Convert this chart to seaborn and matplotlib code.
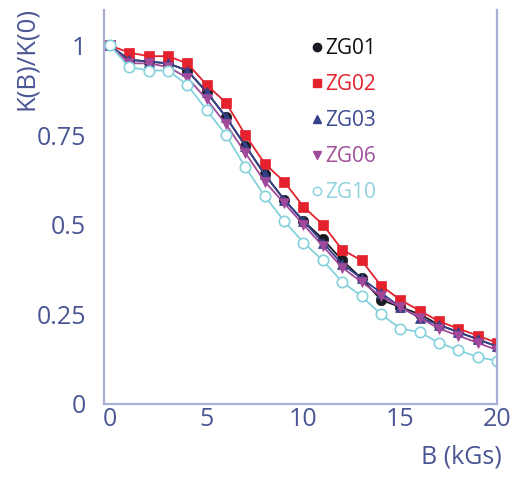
import numpy as np
import pandas as pd
import seaborn as sns
import matplotlib.pyplot as plt
from matplotlib.lines import Line2D

# field B in kGs
B = list(range(0, 21))

zg01 = [1.0, 0.96, 0.955, 0.95, 0.93, 0.87, 0.80, 0.72, 0.64, 0.57, 0.51,
        0.46, 0.40, 0.35, 0.29, 0.27, 0.25, 0.22, 0.20, 0.18, 0.16]
zg02 = [1.0, 0.98, 0.97, 0.97, 0.95, 0.89, 0.84, 0.75, 0.67, 0.62, 0.55,
        0.50, 0.43, 0.40, 0.33, 0.29, 0.26, 0.23, 0.21, 0.19, 0.17]
zg03 = [1.0, 0.96, 0.955, 0.95, 0.93, 0.87, 0.80, 0.72, 0.64, 0.57, 0.51,
        0.45, 0.39, 0.35, 0.31, 0.27, 0.24, 0.22, 0.20, 0.18, 0.16]
zg06 = [1.0, 0.95, 0.95, 0.94, 0.91, 0.85, 0.78, 0.70, 0.62, 0.56, 0.50,
        0.44, 0.38, 0.34, 0.30, 0.27, 0.24, 0.21, 0.19, 0.17, 0.15]
zg10 = [1.0, 0.94, 0.93, 0.93, 0.89, 0.82, 0.75, 0.66, 0.58, 0.51, 0.45,
        0.40, 0.34, 0.30, 0.25, 0.21, 0.20, 0.17, 0.15, 0.13, 0.12]

names = ['ZG01', 'ZG02', 'ZG03', 'ZG06', 'ZG10']
series = [zg01, zg02, zg03, zg06, zg10]
colors = ['#1a1a22', '#e3222e', '#34408a', '#a0489a', '#86d2dc']
text_colors = ['#111111', '#e3222e', '#3b4a92', '#a0509a', '#8fd3dc']
markers = ['o', 's', '^', 'v', 'o']

df = pd.DataFrame({'B': B * len(names),
                   'K': sum(series, []),
                   'sample': sum([[n] * len(B) for n in names], [])})

sns.set_style('white')
plt.rcParams['font.family'] = ['Open Sans', 'DejaVu Sans']
axis_col = '#a9aed6'
label_col = '#4a5794'

fig = plt.figure(figsize=(5.2, 4.79), dpi=100)
ax = fig.add_axes([0.2, 0.157, 0.756, 0.823])

for n, c, m in zip(names, colors, markers):
    sub = df[df['sample'] == n]
    open_mk = n == 'ZG10'
    sns.lineplot(data=sub, x='B', y='K', ax=ax, color=c, marker=m,
                 markersize=7.5, linewidth=1.3, legend=False,
                 markerfacecolor='white' if open_mk else c,
                 markeredgecolor=c, markeredgewidth=1.2 if open_mk else 0.5)

ax.set_xlim(-0.3, 20)
ax.set_ylim(0, 1.1)
ax.set_xticks([0, 5, 10, 15, 20])
ax.set_xticks([2.5, 7.5, 12.5, 17.5], minor=True)
ax.set_yticks([0, 0.25, 0.5, 0.75, 1])
ax.set_yticklabels(['0', '0.25', '0.5', '0.75', '1'])
ax.tick_params(axis='both', which='major', direction='in', length=5,
               width=1.2, color=axis_col, labelsize=18, labelcolor=label_col)
ax.tick_params(axis='y', which='major', pad=13)
ax.tick_params(axis='x', which='major', pad=2)
ax.tick_params(axis='x', which='minor', direction='in', length=2,
               width=1, color=axis_col)
ax.set_xlabel('')
ax.set_ylabel('')

for s in ['left', 'bottom', 'right']:
    ax.spines[s].set_color(axis_col)
    ax.spines[s].set_linewidth(1.6)
ax.spines['top'].set_visible(False)

fig.text(0.05, 0.985, 'K(B)/K(0)', rotation=90, ha='center', va='top',
         fontsize=18.5, color=label_col)
fig.text(0.965, 0.02, 'B (kGs)', ha='right', va='bottom',
         fontsize=18, color=label_col)

handles = []
for n, c, m in zip(names, colors, markers):
    handles.append(Line2D([], [], linestyle='none', marker=m, markersize=6,
                          color=c, markerfacecolor='none' if n == 'ZG10' else c))
ax.legend(handles, names, loc='upper left', bbox_to_anchor=(0.48, 0.975),
          frameon=False, fontsize=15, labelcolor=text_colors,
          handlelength=0.5, handletextpad=0.15, labelspacing=0.72)

fig.savefig('out.png', dpi=100)
